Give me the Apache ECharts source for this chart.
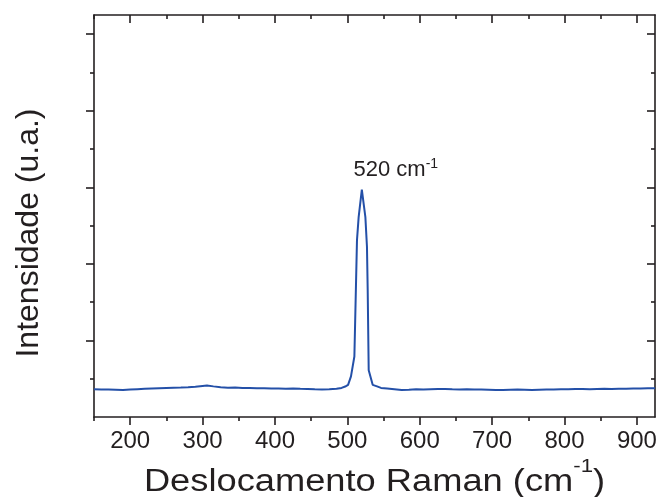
<!DOCTYPE html>
<html>
<head>
<meta charset="utf-8">
<script src="https://cdn.jsdelivr.net/npm/echarts@6/dist/echarts.min.js"></script>
<style>
  html, body { margin: 0; padding: 0; background: #fff; }
  #chart { width: 658px; height: 497px; }
</style>
</head>
<body>
<div id="chart"></div>
<script>
// Raman spectrum: shift (cm^-1) and intensity (arbitrary units)
const ramanShift = [
  150, 160, 170, 180, 190, 200, 210, 220, 230, 240, 250, 260, 270, 280, 290,
  300, 306, 315, 325, 335, 345, 355, 365, 375, 385, 395, 405, 415, 425, 435,
  445, 455, 465, 475, 485, 492, 497, 501, 505, 509.7, 513.3, 515.6, 520,
  524.9, 527.1, 528.1, 529.5, 535, 541, 546.5, 555, 565, 575, 585, 595, 605,
  615, 625, 635, 645, 655, 665, 675, 685, 695, 705, 715, 725, 735, 745, 755,
  765, 775, 785, 795, 805, 815, 825, 835, 845, 855, 865, 875, 885, 895, 905,
  915, 925
];
const intensity = [
  0.362, 0.360, 0.358, 0.355, 0.352, 0.358, 0.363, 0.368, 0.373, 0.377, 0.380, 0.383, 0.386, 0.390, 0.396,
  0.405, 0.410, 0.400, 0.390, 0.382, 0.384, 0.380, 0.378, 0.375, 0.377, 0.372, 0.372, 0.370, 0.372, 0.368,
  0.366, 0.362, 0.360, 0.362, 0.368, 0.380, 0.398, 0.420, 0.530, 0.790, 2.310, 2.610, 2.970,
  2.610, 2.220, 1.660, 0.610, 0.420, 0.400, 0.380, 0.372, 0.362, 0.352, 0.356, 0.362, 0.358,
  0.362, 0.365, 0.366, 0.362, 0.360, 0.364, 0.360, 0.358, 0.356, 0.354, 0.352, 0.355, 0.358, 0.356, 0.352,
  0.355, 0.358, 0.360, 0.362, 0.364, 0.366, 0.366, 0.364, 0.366, 0.368, 0.366, 0.368, 0.370, 0.372, 0.372,
  0.374, 0.374
];

// Axis ticks
const xMajorTicks = [200, 300, 400, 500, 600, 700, 800, 900];
const xMinorTicks = [150, 250, 350, 450, 550, 650, 750, 850];
const yMajorTicks = [1, 2, 3, 4, 5];
const yMinorTicks = [0.5, 1.5, 2.5, 3.5, 4.5];

const peakShift = 520;
const peakIntensity = 2.97;

const FONT = '"Liberation Sans", Arial, Helvetica, sans-serif';
const INK = '#231f20';
const LINE_BLUE = '#2450a8';
const X_RANGE = { min: 150, max: 925 };
const Y_RANGE = { min: 0, max: 5.25 };

const GRID = { left: 94, right: 3, top: 15, bottom: 80 };
const W = 658, H = 497;

const frameLine = { show: true, onZero: false, lineStyle: { color: INK, width: 1.6 } };
const noLine = { show: false, onZero: false };

function xAxisDef(position, ticks, len, inside, withLine, withLabels) {
  return {
    type: 'value', position, ...X_RANGE,
    axisLine: withLine ? frameLine : noLine,
    axisTick: { show: true, inside, length: len, customValues: ticks,
                lineStyle: { color: INK, width: 1.6 } },
    axisLabel: withLabels
      ? { show: true, customValues: ticks, fontSize: 24, color: INK,
          fontFamily: FONT, margin: 12 }
      : { show: false },
    splitLine: { show: false }
  };
}
function yAxisDef(position, ticks, len, inside, withLine) {
  return {
    type: 'value', position, ...Y_RANGE,
    axisLine: withLine ? frameLine : noLine,
    axisTick: { show: true, inside, length: len, customValues: ticks,
                lineStyle: { color: INK, width: 1.6 } },
    axisLabel: { show: false },
    splitLine: { show: false }
  };
}

const xAxes = [
  xAxisDef('bottom', xMajorTicks, 8, false, true, true),
  xAxisDef('bottom', xMinorTicks, 4, false, false, false),
  xAxisDef('top', xMajorTicks, 8, true, true, false),
  xAxisDef('top', xMinorTicks, 4, true, false, false)
];
const yAxes = [
  yAxisDef('left', yMajorTicks, 8, false, true),
  yAxisDef('left', yMinorTicks, 4, false, false),
  yAxisDef('right', yMajorTicks, 8, true, true),
  yAxisDef('right', yMinorTicks, 4, true, false)
];

// Axis titles (the x title is slightly widened, like the lettering of the figure)
const plotCenterX = GRID.left + (W - GRID.left - GRID.right) / 2;
const titles = [
  {
    type: 'text',
    x: plotCenterX, y: 457,
    scaleX: 1.17,
    style: {
      text: '{t|Deslocamento Raman (cm}{s|-1}{t|)}',
      fill: INK,
      align: 'center',
      verticalAlign: 'top',
      rich: {
        t: { fontSize: 31, fontFamily: FONT, fill: INK, lineHeight: 50 },
        s: { fontSize: 19, fontFamily: FONT, fill: INK, lineHeight: 22, verticalAlign: 'top' }
      }
    }
  },
  {
    type: 'text',
    x: 29, y: 233,
    rotation: Math.PI / 2,
    style: {
      text: 'Intensidade (u.a.)',
      font: '32px ' + FONT,
      fill: INK,
      align: 'center',
      verticalAlign: 'middle'
    }
  }
];

const chart = echarts.init(document.getElementById('chart'), null, { renderer: 'canvas' });
chart.setOption({
  animation: false,
  backgroundColor: '#ffffff',
  grid: { ...GRID, containLabel: false, outerBoundsMode: 'none' },
  xAxis: xAxes,
  yAxis: yAxes,
  graphic: titles,
  series: [{
    type: 'line',
    xAxisIndex: 0,
    yAxisIndex: 0,
    data: ramanShift.map((x, i) => [x, intensity[i]]),
    showSymbol: false,
    symbol: 'none',
    lineStyle: { color: LINE_BLUE, width: 2 },
    markPoint: {
      symbol: 'circle',
      symbolSize: 0,
      data: [{ coord: [peakShift, peakIntensity] }],
      label: {
        show: true,
        position: 'top',
        distance: 8,
        offset: [34, 0],
        formatter: '{t|' + peakShift + ' cm}{s|-1}',
        rich: {
          t: { fontSize: 22, fontFamily: FONT, color: INK, lineHeight: 24 },
          s: { fontSize: 14, fontFamily: FONT, color: INK, verticalAlign: 'top', lineHeight: 14 }
        }
      }
    }
  }]
});
</script>
</body>
</html>
